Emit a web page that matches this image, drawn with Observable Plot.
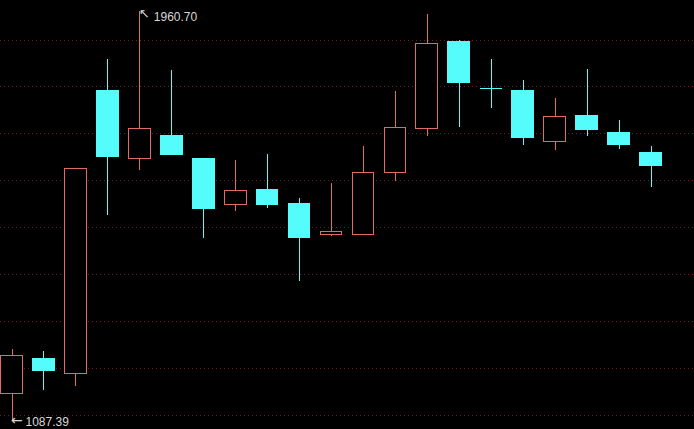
<!DOCTYPE html>
<html>
<head>
<meta charset="utf-8">
<script src="https://cdn.jsdelivr.net/npm/d3@7"></script>
<script src="https://cdn.jsdelivr.net/npm/@observablehq/plot@0.6"></script>
<style>
  html, body { margin: 0; padding: 0; background: #000; }
  #chart svg { display: block; }
</style>
</head>
<body>
<div id="chart"></div>
<script>
const candles = d3.range(21);
const open  = [1143.9, 1219.5, 1187.5, 1791.8, 1645.3, 1695.8, 1646.1, 1547.2, 1580.0, 1550.1, 1483.2, 1483.2, 1615.4, 1710.1, 1896.4, 1795.5, 1791.8, 1682.4, 1737.9, 1701.6, 1659.6];
const high  = [1239.3, 1235.0, 1626.0, 1858.0, 1960.70, 1834.5, 1646.1, 1641.9, 1655.3, 1562.9, 1593.4, 1672.4, 1789.7, 1954.0, 1897.9, 1858.0, 1813.2, 1774.8, 1838.1, 1727.8, 1672.4];
const low   = [1087.39, 1152.5, 1161.0, 1525.8, 1621.2, 1653.8, 1476.7, 1534.3, 1540.7, 1385.0, 1481.0, 1483.2, 1598.3, 1694.3, 1713.5, 1754.1, 1675.2, 1664.5, 1694.3, 1666.6, 1585.5];
const close = [1225.9, 1193.0, 1624.8, 1649.6, 1710.1, 1653.8, 1538.6, 1577.9, 1547.2, 1476.7, 1490.4, 1616.3, 1712.3, 1891.5, 1807.4, 1795.5, 1690.1, 1735.7, 1707.2, 1675.2, 1630.3];
const gridTicks = [1100, 1200, 1300, 1400, 1500, 1600, 1700, 1800, 1900];

const UP = "#e06a66";
const DOWN = "#54fcfc";
const LABEL = "#d8d8d8";

const data = candles.map(i => ({
  i, open: open[i], high: high[i], low: low[i], close: close[i],
  up: close[i] > open[i]
}));
const ups = data.filter(d => d.up);
const notUps = data.filter(d => !d.up);
const downs = data.filter(d => !d.up && d.open !== d.close);
const dojis = data.filter(d => d.open === d.close);

const hiIdx = d3.maxIndex(high);
const loIdx = d3.minIndex(low);
const maxPt = [{i: hiIdx, v: high[hiIdx], label: high[hiIdx].toFixed(2)}];
const minPt = [{i: loIdx, v: low[loIdx], label: low[loIdx].toFixed(2)}];

const half = 0.34;
const numFont = "Liberation Sans, Arial, sans-serif";
const arrowFont = "DejaVu Sans, sans-serif";
const crisp = "crispEdges";

const chart = Plot.plot({
  width: 694,
  height: 429,
  margin: 0,
  style: {background: "#000", overflow: "visible"},
  x: {type: "linear", domain: [0, 20], range: [11.5, 650.5], axis: null},
  y: {type: "linear", domain: [1100, 1900], range: [414.5, 39.5], axis: null},
  marks: [
    Plot.ruleY(gridTicks, {stroke: "#6a1e1e", strokeWidth: 1, strokeDasharray: "1,3", shapeRendering: crisp}),
    Plot.ruleX(ups, {x: "i", y1: "low", y2: "high", stroke: UP, strokeWidth: 1, shapeRendering: crisp}),
    Plot.ruleX(notUps, {x: "i", y1: "low", y2: "high", stroke: DOWN, strokeWidth: 1, shapeRendering: crisp}),
    Plot.rect(ups, {
      x1: d => d.i - half, x2: d => d.i + half,
      y1: "open", y2: "close",
      fill: "#000", stroke: UP, strokeWidth: 1, shapeRendering: crisp
    }),
    Plot.rect(downs, {
      x1: d => d.i - half, x2: d => d.i + half,
      y1: "open", y2: "close",
      fill: DOWN, stroke: DOWN, strokeWidth: 1, shapeRendering: crisp
    }),
    Plot.ruleY(dojis, {
      y: "open", x1: d => d.i - half, x2: d => d.i + half,
      stroke: DOWN, strokeWidth: 1, shapeRendering: crisp
    }),
    // max label
    Plot.text(maxPt, {
      x: "i", y: "v", text: () => "↖", dx: -1, dy: 2,
      textAnchor: "start", fill: LABEL, fontSize: 13, fontFamily: arrowFont
    }),
    Plot.text(maxPt, {
      x: "i", y: "v", text: "label", dx: 14, dy: 6,
      textAnchor: "start", fill: LABEL, fontSize: 12, fontFamily: numFont
    }),
    // min label
    Plot.text(minPt, {
      x: "i", y: "v", text: () => "←", dx: -1, dy: 0,
      textAnchor: "start", fill: LABEL, fontSize: 14, fontFamily: arrowFont
    }),
    Plot.text(minPt, {
      x: "i", y: "v", text: "label", dx: 13.5, dy: 1,
      textAnchor: "start", fill: LABEL, fontSize: 12, fontFamily: numFont
    })
  ]
});
document.getElementById("chart").appendChild(chart);
</script>
</body>
</html>
